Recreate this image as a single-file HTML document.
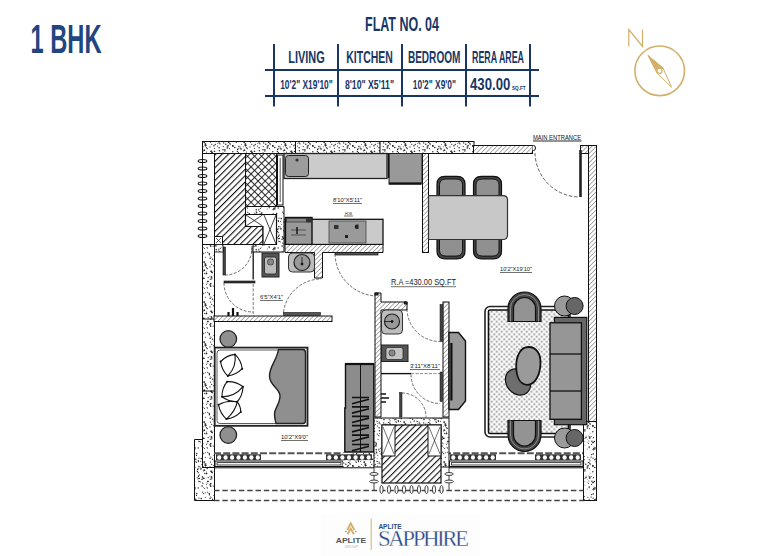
<!DOCTYPE html>
<html><head><meta charset="utf-8">
<style>
html,body{margin:0;padding:0;background:#fff;width:772px;height:556px;overflow:hidden}
svg{position:absolute;left:0;top:0;display:block}
text{font-family:"Liberation Sans",sans-serif}
</style></head><body>
<svg width="772" height="556" viewBox="0 0 772 556">
<defs>
<pattern id="hatch" patternUnits="userSpaceOnUse" width="4.5" height="4.5" patternTransform="rotate(45)">
<rect width="4.5" height="4.5" fill="#fff"/><line x1="0" y1="0" x2="0" y2="4.5" stroke="#111" stroke-width="2.2"/></pattern>
<pattern id="hatchf" patternUnits="userSpaceOnUse" width="3.2" height="3.2" patternTransform="rotate(45)">
<rect width="3.2" height="3.2" fill="#fff"/><line x1="0" y1="0" x2="0" y2="3.2" stroke="#333" stroke-width="0.8"/></pattern>
<pattern id="xhatch" patternUnits="userSpaceOnUse" width="5" height="5" patternTransform="rotate(45)">
<rect width="5" height="5" fill="#fff"/><line x1="0" y1="0" x2="0" y2="5" stroke="#111" stroke-width="1.7"/><line x1="0" y1="0" x2="5" y2="0" stroke="#111" stroke-width="1.7"/></pattern>
<pattern id="dots" patternUnits="userSpaceOnUse" width="40" height="40">
<rect width="40" height="40" fill="#fff"/>
<g fill="#222" stroke="none"><circle cx="24.9" cy="29.7" r="0.73"/><circle cx="37.7" cy="29.6" r="0.77"/><circle cx="1.2" cy="18.6" r="0.78"/><circle cx="26.0" cy="36.0" r="0.49"/><circle cx="18.8" cy="9.9" r="0.64"/><circle cx="23.0" cy="0.5" r="0.53"/><circle cx="11.2" cy="36.7" r="0.72"/><circle cx="6.4" cy="31.9" r="0.50"/><circle cx="24.7" cy="5.1" r="0.45"/><circle cx="34.9" cy="8.4" r="0.53"/><circle cx="39.3" cy="34.9" r="0.55"/><circle cx="38.5" cy="21.6" r="0.69"/><circle cx="8.2" cy="37.6" r="0.69"/><circle cx="38.7" cy="35.7" r="0.55"/><circle cx="14.4" cy="6.6" r="0.50"/><circle cx="2.6" cy="12.1" r="0.66"/><circle cx="0.1" cy="27.1" r="0.57"/><circle cx="12.4" cy="32.7" r="0.62"/><circle cx="12.6" cy="19.2" r="0.70"/><circle cx="2.3" cy="39.0" r="0.46"/><circle cx="30.0" cy="33.8" r="0.46"/><circle cx="31.5" cy="14.6" r="0.65"/><circle cx="0.4" cy="1.9" r="0.51"/><circle cx="38.2" cy="7.9" r="0.71"/><circle cx="37.2" cy="37.7" r="0.57"/><circle cx="14.2" cy="21.0" r="0.72"/><circle cx="4.3" cy="29.9" r="0.73"/><circle cx="34.4" cy="1.5" r="0.78"/><circle cx="3.6" cy="13.6" r="0.66"/><circle cx="36.7" cy="13.6" r="0.77"/><circle cx="21.8" cy="12.5" r="0.56"/><circle cx="7.1" cy="3.1" r="0.50"/><circle cx="27.6" cy="39.9" r="0.51"/><circle cx="1.9" cy="39.5" r="0.64"/><circle cx="16.2" cy="9.5" r="0.66"/><circle cx="33.1" cy="18.2" r="0.60"/><circle cx="2.2" cy="36.6" r="0.46"/><circle cx="19.7" cy="33.5" r="0.50"/><circle cx="29.3" cy="38.0" r="0.67"/><circle cx="31.5" cy="4.3" r="0.60"/><circle cx="6.0" cy="33.8" r="0.55"/><circle cx="18.1" cy="40.0" r="0.75"/><circle cx="39.0" cy="18.1" r="0.62"/><circle cx="29.2" cy="19.2" r="0.55"/><circle cx="16.2" cy="5.9" r="0.58"/><circle cx="39.5" cy="38.4" r="0.67"/><circle cx="20.0" cy="13.5" r="0.48"/><circle cx="10.9" cy="31.3" r="0.75"/><circle cx="14.5" cy="31.4" r="0.72"/><circle cx="27.8" cy="26.6" r="0.72"/><circle cx="14.5" cy="28.2" r="0.55"/><circle cx="19.4" cy="30.8" r="0.69"/><circle cx="11.8" cy="37.8" r="0.68"/><circle cx="23.2" cy="0.5" r="0.64"/><circle cx="10.0" cy="26.9" r="0.61"/><circle cx="32.7" cy="25.9" r="0.73"/><circle cx="13.9" cy="25.8" r="0.71"/><circle cx="33.1" cy="14.0" r="0.75"/><circle cx="34.8" cy="27.5" r="0.79"/><circle cx="38.3" cy="20.7" r="0.64"/><circle cx="6.6" cy="33.5" r="0.78"/><circle cx="19.1" cy="27.7" r="0.70"/><circle cx="29.2" cy="6.9" r="0.72"/><circle cx="23.2" cy="26.6" r="0.60"/><circle cx="24.9" cy="31.0" r="0.67"/><circle cx="28.8" cy="1.1" r="0.51"/><circle cx="17.6" cy="26.0" r="0.53"/><circle cx="27.4" cy="25.2" r="0.46"/><circle cx="18.9" cy="9.0" r="0.47"/><circle cx="5.3" cy="12.7" r="0.51"/><circle cx="7.7" cy="1.4" r="0.61"/><circle cx="15.2" cy="24.5" r="0.66"/><circle cx="9.5" cy="36.1" r="0.45"/><circle cx="16.2" cy="11.1" r="0.59"/><circle cx="4.6" cy="33.3" r="0.58"/><circle cx="1.4" cy="24.5" r="0.48"/><circle cx="21.8" cy="13.6" r="0.65"/><circle cx="38.3" cy="32.7" r="0.60"/><circle cx="32.5" cy="25.7" r="0.58"/><circle cx="5.7" cy="23.8" r="0.65"/><circle cx="38.3" cy="38.7" r="0.66"/><circle cx="14.0" cy="35.7" r="0.45"/><circle cx="4.3" cy="22.6" r="0.67"/><circle cx="5.6" cy="25.2" r="0.76"/><circle cx="15.0" cy="17.3" r="0.53"/><circle cx="11.7" cy="38.9" r="0.58"/><circle cx="38.4" cy="36.5" r="0.66"/><circle cx="10.4" cy="39.2" r="0.62"/><circle cx="16.6" cy="12.8" r="0.79"/><circle cx="19.7" cy="11.5" r="0.62"/><circle cx="4.9" cy="24.9" r="0.61"/><circle cx="11.7" cy="31.3" r="0.74"/><circle cx="0.5" cy="21.3" r="0.55"/><circle cx="37.4" cy="31.3" r="0.54"/><circle cx="10.7" cy="6.2" r="0.80"/><circle cx="11.7" cy="24.3" r="0.62"/><circle cx="25.8" cy="24.2" r="0.71"/><circle cx="4.7" cy="30.4" r="0.56"/><circle cx="21.3" cy="13.4" r="0.55"/><circle cx="21.2" cy="18.6" r="0.58"/><circle cx="29.8" cy="23.6" r="0.46"/><circle cx="10.1" cy="18.2" r="0.77"/><circle cx="35.5" cy="21.8" r="0.46"/><circle cx="31.1" cy="17.1" r="0.65"/><circle cx="28.3" cy="25.3" r="0.62"/><circle cx="36.5" cy="15.4" r="0.59"/><circle cx="34.1" cy="7.9" r="0.55"/><circle cx="33.2" cy="2.6" r="0.74"/><circle cx="27.8" cy="17.3" r="0.55"/><circle cx="31.2" cy="36.4" r="0.50"/><circle cx="19.1" cy="22.0" r="0.62"/><circle cx="13.2" cy="6.1" r="0.66"/><circle cx="32.5" cy="2.7" r="0.53"/><circle cx="32.8" cy="31.7" r="0.68"/><circle cx="1.0" cy="28.9" r="0.79"/><circle cx="39.9" cy="28.0" r="0.47"/><circle cx="33.7" cy="8.8" r="0.68"/><circle cx="38.1" cy="28.5" r="0.50"/><circle cx="11.7" cy="36.7" r="0.50"/><circle cx="24.4" cy="16.6" r="0.51"/><circle cx="24.9" cy="1.7" r="0.49"/><circle cx="15.2" cy="2.9" r="0.47"/><circle cx="23.0" cy="29.7" r="0.76"/><circle cx="5.4" cy="17.3" r="0.56"/><circle cx="24.0" cy="19.6" r="0.78"/><circle cx="15.0" cy="2.2" r="0.69"/><circle cx="6.0" cy="25.3" r="0.63"/><circle cx="36.4" cy="22.2" r="0.67"/><circle cx="10.5" cy="22.1" r="0.54"/><circle cx="30.0" cy="20.7" r="0.50"/><circle cx="9.4" cy="14.8" r="0.71"/><circle cx="7.2" cy="28.5" r="0.68"/><circle cx="3.4" cy="26.7" r="0.48"/><circle cx="5.0" cy="23.8" r="0.53"/><circle cx="35.1" cy="19.2" r="0.56"/><circle cx="31.9" cy="1.2" r="0.70"/><circle cx="2.1" cy="6.0" r="0.78"/><circle cx="27.2" cy="8.9" r="0.49"/><circle cx="38.9" cy="26.6" r="0.74"/><circle cx="5.6" cy="25.0" r="0.57"/><circle cx="9.4" cy="13.3" r="0.66"/><circle cx="13.9" cy="15.4" r="0.50"/><circle cx="33.2" cy="25.9" r="0.73"/><circle cx="17.3" cy="34.1" r="0.63"/><circle cx="23.7" cy="22.9" r="0.71"/><circle cx="15.8" cy="3.9" r="0.46"/><circle cx="8.1" cy="1.6" r="0.76"/><circle cx="19.2" cy="30.4" r="0.45"/><circle cx="18.8" cy="35.6" r="0.67"/><circle cx="17.1" cy="18.6" r="0.48"/></g>
<g stroke="#222" stroke-width=".9"><line x1="6.9" y1="7.0" x2="7.5" y2="8.6"/><line x1="34.5" y1="6.8" x2="35.5" y2="7.9"/><line x1="7.1" y1="11.9" x2="8.5" y2="13.1"/><line x1="2.2" y1="36.1" x2="3.2" y2="38.3"/><line x1="27.1" y1="26.6" x2="27.3" y2="28.9"/><line x1="5.5" y1="26.4" x2="6.7" y2="28.0"/><line x1="28.7" y1="7.2" x2="29.7" y2="7.9"/><line x1="9.8" y1="4.0" x2="10.5" y2="6.2"/><line x1="14.8" y1="12.8" x2="15.0" y2="14.4"/><line x1="28.8" y1="28.3" x2="30.1" y2="29.0"/><line x1="26.5" y1="36.7" x2="25.8" y2="38.3"/><line x1="38.1" y1="1.2" x2="40.2" y2="1.6"/><line x1="16.6" y1="2.7" x2="16.2" y2="5.1"/><line x1="20.7" y1="14.3" x2="21.9" y2="14.7"/><line x1="35.2" y1="19.7" x2="33.9" y2="19.9"/><line x1="10.3" y1="2.9" x2="10.7" y2="4.1"/><line x1="10.7" y1="16.5" x2="11.4" y2="17.5"/><line x1="2.4" y1="37.9" x2="4.0" y2="38.9"/><line x1="16.3" y1="21.2" x2="17.8" y2="21.6"/><line x1="5.1" y1="21.6" x2="3.2" y2="22.1"/><line x1="33.6" y1="9.1" x2="35.4" y2="9.2"/><line x1="19.5" y1="22.7" x2="20.2" y2="24.5"/><line x1="28.6" y1="35.7" x2="29.6" y2="37.1"/><line x1="32.4" y1="9.5" x2="33.9" y2="10.1"/><line x1="4.3" y1="30.4" x2="3.0" y2="31.2"/><line x1="5.9" y1="4.1" x2="6.9" y2="5.0"/><line x1="17.3" y1="22.9" x2="18.2" y2="23.8"/><line x1="27.6" y1="2.8" x2="28.9" y2="3.7"/><line x1="15.2" y1="4.7" x2="15.6" y2="6.3"/><line x1="29.6" y1="22.1" x2="27.7" y2="22.8"/><line x1="29.9" y1="22.8" x2="30.3" y2="25.0"/><line x1="25.9" y1="37.3" x2="24.6" y2="38.8"/><line x1="11.2" y1="31.9" x2="11.7" y2="33.1"/><line x1="3.5" y1="7.4" x2="4.9" y2="8.9"/><line x1="11.8" y1="3.4" x2="10.5" y2="4.7"/><line x1="2.0" y1="2.9" x2="3.5" y2="3.6"/><line x1="33.7" y1="37.1" x2="33.2" y2="38.5"/><line x1="17.3" y1="14.8" x2="17.9" y2="15.8"/><line x1="23.2" y1="32.4" x2="22.3" y2="33.4"/><line x1="21.2" y1="7.5" x2="20.1" y2="8.9"/><line x1="36.7" y1="31.2" x2="38.1" y2="31.8"/><line x1="35.8" y1="18.5" x2="36.1" y2="20.2"/><line x1="30.2" y1="36.6" x2="29.9" y2="38.9"/><line x1="23.6" y1="4.9" x2="22.2" y2="5.9"/><line x1="3.0" y1="38.2" x2="4.9" y2="38.4"/></g>
</pattern>
<pattern id="rug" patternUnits="userSpaceOnUse" width="5" height="5" x="0.5" y="0.5">
<rect width="5" height="5" fill="#fff"/><circle cx="1.25" cy="1.25" r="1" fill="#858585"/><circle cx="3.75" cy="3.75" r="1" fill="#858585"/></pattern>
</defs>

<!-- HEADER -->
<text x="30.5" y="52.7" font-size="41" font-weight="bold" fill="#1f4682" textLength="71" lengthAdjust="spacingAndGlyphs">1 BHK</text>
<text x="365" y="30.7" font-size="19.5" font-weight="bold" fill="#173666" textLength="74" lengthAdjust="spacingAndGlyphs">FLAT NO. 04</text>
<g stroke="#173666" stroke-width="2">
<line x1="274" y1="44" x2="274" y2="106.5"/>
<line x1="338" y1="44" x2="338" y2="106.5"/>
<line x1="402" y1="44" x2="402" y2="106.5"/>
<line x1="466" y1="44" x2="466" y2="106.5"/>
<line x1="530" y1="44" x2="530" y2="106.5"/>
<line x1="265" y1="70" x2="539" y2="70"/>
<line x1="265" y1="96" x2="539" y2="96"/>
</g>
<g fill="#173666" font-weight="bold">
<text x="288.3" y="62.8" font-size="17.3" textLength="36.5" lengthAdjust="spacingAndGlyphs">LIVING</text>
<text x="346.3" y="62.8" font-size="17.3" textLength="46.5" lengthAdjust="spacingAndGlyphs">KITCHEN</text>
<text x="407.9" y="62.8" font-size="17.3" textLength="52.5" lengthAdjust="spacingAndGlyphs">BEDROOM</text>
<text x="472" y="62.8" font-size="17.3" textLength="52" lengthAdjust="spacingAndGlyphs">RERA AREA</text>
<text x="280.2" y="88.7" font-size="13" textLength="52.5" lengthAdjust="spacingAndGlyphs">10'2" X19'10"</text>
<text x="344.9" y="88.7" font-size="13" textLength="49.2" lengthAdjust="spacingAndGlyphs">8'10" X5'11"</text>
<text x="412.8" y="88.7" font-size="13" textLength="43.2" lengthAdjust="spacingAndGlyphs">10'2" X9'0"</text>
<text x="470" y="90" font-size="16.3" textLength="40.3" lengthAdjust="spacingAndGlyphs">430.00</text>
<text x="512" y="89.6" font-size="5" textLength="13.7" lengthAdjust="spacingAndGlyphs">SQ.FT</text>
</g>
<!-- compass -->
<g stroke="#d2b06a" fill="none">
<circle cx="659.7" cy="70.8" r="24.8" stroke-width="1.6"/>
<path d="M628.8 46.5 V29.5 L642.5 46.5 V29.5" stroke-width="1.2"/>
<path d="M647.9 55.2 L663 68 L657 73 Z" fill="#d2b06a" stroke-width="1"/>
<path d="M657 73 L663 68 L671.6 87.3 Z" stroke-width="1"/>
<circle cx="659.5" cy="70.8" r="2.6" fill="#fff" stroke-width="1.2"/>
</g>

<!-- FLOOR PLAN -->
<g id="plan" stroke="#111" stroke-width="1">
<!-- top dotted wall -->
<rect x="202.5" y="141.5" width="271.5" height="12" fill="url(#dots)"/>
<line x1="295.5" y1="141" x2="295.5" y2="153"/>
<line x1="380" y1="141" x2="380" y2="153"/>
<!-- top hatched wall -->
<rect x="473.5" y="145.5" width="59" height="8" fill="url(#hatchf)"/>
<rect x="580.5" y="145.5" width="16" height="8" fill="url(#hatchf)"/>
<rect x="588.5" y="145.5" width="8" height="276.5" fill="url(#hatchf)"/>
<rect x="583.5" y="421.5" width="13" height="79" fill="url(#dots)"/>
<!-- left wall -->
<line x1="214.5" y1="153" x2="214.5" y2="244"/><line x1="202.5" y1="153" x2="202.5" y2="244"/>
<rect x="202.5" y="244.5" width="12" height="223" fill="url(#dots)"/>
<line x1="202" y1="319" x2="214" y2="319"/>
<line x1="202" y1="391" x2="214" y2="391"/>
<path d="M194.5 439.5 H202.5 V467.5 H214.5 V500.5 H194.5 Z" fill="url(#dots)"/>
<!-- left hatched block -->
<path d="M214.5 153.5 H245.5 V226.5 H263 V244.5 H214.5 Z" fill="url(#hatch)"/>
<rect x="245.5" y="153.5" width="31" height="53" fill="url(#xhatch)"/>
<path d="M245.5 206.5 H284 V252 H253 V244.5 H276.5 V214.5 H245.5 Z" fill="url(#dots)"/>
<path d="M245.5 214.5 H276.5 V244.5 H263 V226.5 H245.5 Z" fill="#fff" stroke-width="1.2"/>
<path d="M246 215 L262.5 226 M262.5 215 L246 226 M264 215 L276 244 M276 215 L264 244" stroke-width=".8"/>
<rect x="277.5" y="155" width="5.5" height="50" fill="#fff" stroke-width="1"/>
<line x1="280.2" y1="158" x2="280.2" y2="202" stroke-width=".7"/>
</g>

<g id="plan2" stroke="#111" stroke-width="1">
<!-- small X box at left -->
<rect x="214.5" y="236.5" width="8" height="8" fill="#fff" stroke-width="1"/>
<path d="M216 238 L221 243 M221 238 L216 243" stroke-width=".7"/>
<!-- kitchen upper counter -->
<rect x="284" y="153.5" width="103" height="25" fill="#cbcbcb" stroke="#222" stroke-width="1.3"/>
<rect x="285.5" y="155.5" width="23" height="21" rx="3" fill="#9c9c9c" stroke="#222" stroke-width="1"/>
<circle cx="297" cy="160" r="1.6" fill="#333" stroke="none"/>
<!-- fridge box -->
<rect x="389" y="153.5" width="33" height="30.5" fill="#999" stroke="#222" stroke-width="1"/>
<line x1="389" y1="183.5" x2="421" y2="183.5" stroke-width="2.2"/>
<line x1="388.5" y1="153.5" x2="388.5" y2="178" stroke-width="1.6"/>
<!-- thin wall kitchen/dining -->
<rect x="422.5" y="153.5" width="6" height="99" fill="url(#hatchf)"/>
<!-- lower counter -->
<rect x="285" y="219.3" width="98" height="25.2" fill="#cacaca" stroke="#111" stroke-width="1.3"/>
<rect x="285.5" y="217.5" width="26.5" height="27" fill="#999" stroke="#111" stroke-width="1.4"/>
<rect x="286.5" y="218.5" width="24.5" height="3.5" fill="#888" stroke="#222" stroke-width=".6"/>
<rect x="306" y="218.3" width="5" height="4" fill="#333" stroke="none"/>
<path d="M291 230 h15 M291 235 h15" stroke="#333" stroke-width=".7"/>
<path d="M297 227 v7" stroke="#111" stroke-width="1.4"/>
<rect x="329" y="221" width="37" height="22" fill="#9a9a9a" stroke="#444" stroke-width=".8"/>
<rect x="334" y="225" width="4.5" height="4" fill="#333" stroke="none"/>
<path d="M357 224.5 a2.3 2.3 0 1 0 0 4.6 h1.5 v-4.6 z" fill="#222" stroke="none"/>
<rect x="345" y="235" width="3" height="3" fill="#222" stroke="none"/>
<!-- hatched wall under counter -->
<path d="M285 244.5 H383 V252.5 H322.5 V278 H314.5 V252.5 H285 Z" fill="url(#hatchf)"/>
<!-- kitchen door -->
<rect x="335" y="252.5" width="43" height="2.5" fill="#555" stroke-width=".7"/>
<path d="M335 254 A43 43 0 0 0 377 296" fill="none" stroke="#333" stroke-width=".7" stroke-dasharray="3 1.5"/>
<!-- bath1 -->
<rect x="214" y="316" width="118" height="5.5" fill="url(#hatchf)"/>
<rect x="262" y="253" width="17" height="24" fill="#555" stroke="#222"/>
<rect x="264.5" y="257" width="12" height="17" rx="2" fill="#bbb" stroke="#222" stroke-width=".8"/>
<rect x="267.5" y="259" width="6" height="6" rx="2.5" fill="#888" stroke="#222" stroke-width=".6"/>
<rect x="288.5" y="253" width="26" height="19" rx="4" fill="#bdbdbd" stroke="#333"/>
<circle cx="302" cy="262.5" r="8" fill="#999" stroke="#222" stroke-width="1.2"/>
<path d="M302 257 V264" stroke-width=".8"/><circle cx="302" cy="264" r="1" fill="#111"/>
<!-- WC doors -->
<rect x="223" y="247" width="2.5" height="28" fill="#444" stroke-width=".6"/>
<path d="M225 275 A27 27 0 0 0 252 248" fill="none" stroke="#333" stroke-width=".7" stroke-dasharray="3 1.5"/>
<line x1="252" y1="246" x2="252" y2="253" stroke-width=".8"/>
<rect x="224" y="281" width="31" height="2" fill="#333" stroke-width=".6"/>
<path d="M224 283 A29 29 0 0 0 253 312" fill="none" stroke="#333" stroke-width=".7" stroke-dasharray="3 1.5"/>
<line x1="253.2" y1="252" x2="253.2" y2="279.5" stroke-width="1.3"/>
<line x1="253.2" y1="284" x2="253.2" y2="316" stroke="#555" stroke-width=".8" stroke-dasharray="3 1.5"/>
<rect x="214.5" y="244.5" width="8.5" height="7.5" fill="url(#dots)" stroke-width=".8"/>
<rect x="283.5" y="312.5" width="37" height="3" fill="#555" stroke-width=".6"/>
<path d="M283.5 312 A38 38 0 0 1 321 279" fill="none" stroke="#333" stroke-width=".7" stroke-dasharray="3 1.5"/>
<path d="M228.5 316 v-4 M233 316 v-8 M237.5 316 v-4" stroke-width="2.2"/>
</g>

<g id="plan3" stroke="#111" stroke-width="1">
<!-- ovals on left wall -->
<g fill="none" stroke="#111" stroke-width="1.1">
<ellipse cx="202.5" cy="161" rx="4.3" ry="1.45"/><ellipse cx="202.5" cy="168.5" rx="4.3" ry="1.45"/><ellipse cx="202.5" cy="176" rx="4.3" ry="1.45"/>
<ellipse cx="202.5" cy="183.5" rx="4.3" ry="1.45"/><ellipse cx="202.5" cy="191" rx="4.3" ry="1.45"/><ellipse cx="202.5" cy="198.5" rx="4.3" ry="1.45"/>
<ellipse cx="202.5" cy="206" rx="4.3" ry="1.45"/><ellipse cx="202.5" cy="213.5" rx="4.3" ry="1.45"/><ellipse cx="202.5" cy="221" rx="4.3" ry="1.45"/>
<ellipse cx="202.5" cy="228.5" rx="4.3" ry="1.45"/><ellipse cx="202.5" cy="236" rx="4.3" ry="1.45"/>
</g>
<!-- main door -->
<path d="M532.5 145.5 h1 a2 2.5 0 0 1 0 5 h-1" fill="#fff" stroke-width="1"/>
<rect x="579.2" y="150" width="2.6" height="47" fill="#222" stroke="none"/>
<path d="M535 153 A45 45 0 0 0 579 197" fill="none" stroke="#333" stroke-width=".8" stroke-dasharray="3.5 1.8"/>
<text x="533" y="140" font-size="6.6" fill="#111" stroke="none" textLength="48" lengthAdjust="spacingAndGlyphs">MAIN ENTRANCE</text>
<line x1="533" y1="141" x2="581.5" y2="141" stroke-width=".9"/>
<!-- dining -->
<g stroke="#111"><path d="M437 197 V184.3 Q437 176.3 445 176.3 H457 Q465 176.3 465 184.3 V197 Z" fill="#444" stroke-width="1.2"/><path d="M439.5 197 V184.8 Q439.5 179.0 446 179.0 H456 Q462.5 179.0 462.5 184.8 V197 Z" fill="#909090" stroke-width="1"/><path d="M473.5 197 V184.3 Q473.5 176.3 481.5 176.3 H493.5 Q501.5 176.3 501.5 184.3 V197 Z" fill="#444" stroke-width="1.2"/><path d="M476.0 197 V184.8 Q476.0 179.0 482.5 179.0 H492.5 Q499.0 179.0 499.0 184.8 V197 Z" fill="#909090" stroke-width="1"/><path d="M437 238 V250.8 Q437 258.8 445 258.8 H457 Q465 258.8 465 250.8 V238 Z" fill="#444" stroke-width="1.2"/><path d="M439.5 238 V250.3 Q439.5 256.1 446 256.1 H456 Q462.5 256.1 462.5 250.3 V238 Z" fill="#909090" stroke-width="1"/><path d="M473.5 238 V250.8 Q473.5 258.8 481.5 258.8 H493.5 Q501.5 258.8 501.5 250.8 V238 Z" fill="#444" stroke-width="1.2"/><path d="M476.0 238 V250.3 Q476.0 256.1 482.5 256.1 H492.5 Q499.0 256.1 499.0 250.3 V238 Z" fill="#909090" stroke-width="1"/></g>
<path d="M428.5 195.7 H503 Q507.5 195.7 507.5 200 V235 Q507.5 239.5 503 239.5 H428.5 Z" fill="#c8c8c8" stroke="#333" stroke-width="1.2"/>
<!-- labels -->
<g fill="#222" stroke="none">
<text x="333" y="202" font-size="6" textLength="29" lengthAdjust="spacingAndGlyphs">8'10"X5'11"</text>
<text x="345" y="215" font-size="4" textLength="7" lengthAdjust="spacingAndGlyphs">HOB</text>
<text x="260" y="299" font-size="6" textLength="23" lengthAdjust="spacingAndGlyphs">6'5"X4'1"</text>
<text x="391" y="285" font-size="8.6" textLength="65" lengthAdjust="spacingAndGlyphs">R.A =430.00 SQ.FT</text>
<text x="500" y="271" font-size="6" textLength="32" lengthAdjust="spacingAndGlyphs">10'2"X19'10"</text>
<text x="410" y="368" font-size="6" textLength="30" lengthAdjust="spacingAndGlyphs">3'11"X8'11"</text>
<text x="281" y="439" font-size="6" textLength="27" lengthAdjust="spacingAndGlyphs">10'2"X9'0"</text>
</g>
<g stroke-width=".6">
<line x1="333" y1="203.5" x2="362" y2="203.5"/>
<line x1="344" y1="216" x2="353" y2="216"/>
<line x1="260" y1="300.5" x2="283" y2="300.5"/>
<line x1="391" y1="286.7" x2="456" y2="286.7"/>
<line x1="500" y1="272.5" x2="532" y2="272.5"/>
<line x1="410" y1="369.5" x2="440" y2="369.5"/>
<line x1="281" y1="440.5" x2="308" y2="440.5"/>
</g>
<!-- hall / bath2 walls -->
<path d="M375 293 H381 V302 H407 V310 H381 V417 H375 Z" fill="url(#hatchf)"/>
<rect x="375" y="293" width="3" height="2" fill="#333"/>
<rect x="404.5" y="302" width="2.5" height="2" fill="#333"/>
<rect x="443" y="302" width="6" height="115" fill="url(#hatchf)"/>
<!-- bath2 fixtures -->
<rect x="381.5" y="310" width="21" height="24" rx="4" fill="#bdbdbd" stroke="#333"/>
<circle cx="392" cy="321.5" r="7.5" fill="#999" stroke="#222" stroke-width="1.2"/>
<path d="M385 321.5 H392" stroke-width=".8"/><circle cx="392" cy="321.5" r="1" fill="#111"/>
<rect x="381.5" y="345" width="26.5" height="16.5" fill="#555" stroke="#222"/>
<rect x="386" y="347.5" width="17" height="12" rx="2" fill="#c4c4c4" stroke="#222" stroke-width=".7"/>
<rect x="389" y="350" width="6" height="6" rx="2.5" fill="#888" stroke="#222" stroke-width=".6"/>
<line x1="381" y1="373.6" x2="411" y2="373.6" stroke-width="1.4"/>
<line x1="411" y1="373.6" x2="443" y2="373.6" stroke="#555" stroke-width=".7" stroke-dasharray="3 1.5"/>
<rect x="440" y="304.5" width="3" height="37" fill="#444" stroke-width=".5"/>
<path d="M407 309 A33 33 0 0 0 440 341.5" fill="none" stroke="#333" stroke-width=".7" stroke-dasharray="3 1.5"/>
<rect x="440" y="372" width="2.5" height="29.5" fill="#444" stroke-width=".5"/>
<path d="M411 374.5 A29 29 0 0 0 440 403.5" fill="none" stroke="#333" stroke-width=".7" stroke-dasharray="3 1.5"/>
<rect x="399.5" y="392.5" width="2.5" height="24.5" fill="#444" stroke-width=".5"/>
<path d="M402 393 A24 24 0 0 1 426 417" fill="none" stroke="#333" stroke-width=".7" stroke-dasharray="3 1.5"/>
<path d="M381 394 h5 M381 398 h8 M381 402 h5" stroke-width="1.6"/>
<!-- TV unit -->
<path d="M449 332.5 H458.5 L465.5 341 V401 L458.5 409.5 H449 Z" fill="#999" stroke="#111" stroke-width="1.4"/>
<rect x="450.3" y="343" width="2.2" height="57.5" fill="#111" stroke="none"/>
<!-- wardrobe -->
<path d="M345.5 364 H373.8 V452 H344.8 V408 H345.5 Z" fill="#8c8c8c" stroke="#111" stroke-width="1.4"/>
<line x1="345" y1="364" x2="374" y2="364" stroke-width="2.2"/>
<line x1="360.5" y1="364" x2="360.5" y2="452" stroke-width="1"/>
<path d="M352 397.5 H369 M352 403.7 L369 399.3 M352 406.9 H369 M352 413.1 L369 408.7 M352 416.3 H369 M352 422.5 L369 418.1 M352 425.7 H369 M352 431.9 L369 427.5 M352 435.1 H369 M352 441.3 L369 436.9 M352 444.5 H369 M352 450.7 L369 446.3" fill="none" stroke="#111" stroke-width="1.7"/>
</g>

<g id="plan4" stroke="#111" stroke-width="1">
<!-- rug -->
<rect x="485" y="306.5" width="85" height="130.5" rx="5" fill="#fff" stroke="#222" stroke-width="1.6"/>
<rect x="488.5" y="310" width="80" height="123.5" rx="1.5" fill="url(#rug)" stroke="#111" stroke-width="1.6"/>
<!-- armchairs -->
<g stroke="#111">
<path d="M508 321.5 V308.5 A16.5 16.5 0 0 1 541 308.5 V321.5 Z" fill="#444" stroke-width="1.2"/>
<path d="M510.5 321.5 V308.5 A14 14 0 0 1 538.5 308.5 V321.5" fill="none" stroke="#bbb" stroke-width=".6"/>
<path d="M513.5 321.5 V308.5 A11 11 0 0 1 535.5 308.5 V321.5 Z" fill="#939393" stroke-width="1.2"/>
<path d="M508 420.5 V435 A16.5 16.5 0 0 0 541 435 V420.5 Z" fill="#444" stroke-width="1.2"/>
<path d="M510.5 420.5 V435 A14 14 0 0 0 538.5 435 V420.5" fill="none" stroke="#bbb" stroke-width=".6"/>
<path d="M513.5 420.5 V435 A11 11 0 0 0 535.5 435 V420.5 Z" fill="#939393" stroke-width="1.2"/>
</g>
<!-- side circles -->
<circle cx="564.5" cy="306" r="10" fill="#9a9a9a" stroke="#111" stroke-width="1"/>
<circle cx="574.6" cy="306" r="8.5" fill="#666" stroke="#111" stroke-width="1"/>
<circle cx="564.5" cy="438" r="10" fill="#9a9a9a" stroke="#111" stroke-width="1"/>
<circle cx="574.6" cy="438" r="8.5" fill="#666" stroke="#111" stroke-width="1"/>
<!-- sofa -->
<rect x="554.4" y="317.4" width="32.4" height="107.3" fill="#666" stroke="#111" stroke-width="1.2"/>
<rect x="550" y="322.8" width="31.4" height="96.5" fill="#969696" stroke="#111" stroke-width="1.3"/>
<line x1="550" y1="354" x2="581.4" y2="354" stroke-width="1.3"/>
<line x1="550" y1="391" x2="581.4" y2="391" stroke-width="1.3"/>
<!-- ottomans -->
<ellipse cx="518" cy="382" rx="11.5" ry="14" transform="rotate(-40 518 382)" fill="#6e6e6e" stroke="#111" stroke-width="1.2"/>
<path d="M528.5 347 C536.5 347 541 354 540.5 364 C540 375 535 384.8 527.5 384.8 C520 384.8 516.5 377 516.2 367 C516 356 520.5 347 528.5 347 Z" fill="#9a9a9a" stroke="#111" stroke-width="1.8"/>
<!-- bed -->
<circle cx="228.3" cy="339" r="8.3" fill="#8f8f8f" stroke="#222" stroke-width="1.3"/>
<circle cx="228.3" cy="435" r="8.3" fill="#8f8f8f" stroke="#222" stroke-width="1.3"/>
<rect x="214.7" y="347.6" width="92.8" height="78.2" fill="#fff" stroke="#222" stroke-width="1.8"/>
<rect x="217" y="350" width="88.5" height="73.5" rx="3" fill="#fff" stroke="#333" stroke-width=".8"/>
<path d="M278.5 349.5 C277 360 269.5 366 269.5 376 C269.5 386 280 388 280 396 C280 404 274.5 408 274.5 414 C274.5 418 275.5 421 276 423.5 H303 Q305.5 423.5 305.5 420.5 V353 Q305.5 349.5 303 349.5 Z" fill="#8f8f8f" stroke="#222" stroke-width="1.4"/>
<g fill="none" stroke="#111" stroke-width="1.1"><path d="M220.6 361.5 Q226.5 355.4 235.0 354.4 Q241.2 360.3 242.2 368.7 Q236.3 374.9 227.8 376.0 Q221.6 370.0 220.6 361.5"/><path d="M235 354.4 Q236.8 366.9 227.8 376"/><circle cx="220.6" cy="361.5" r="1" fill="#111" stroke="none"/><circle cx="235" cy="354.4" r="1" fill="#111" stroke="none"/><circle cx="242.2" cy="368.7" r="1" fill="#111" stroke="none"/><circle cx="227.8" cy="376" r="1" fill="#111" stroke="none"/><path d="M227.1 381.7 Q236.0 381.3 243.0 386.7 Q242.8 395.3 237.2 401.8 Q228.7 402.0 222.0 396.8 Q221.8 388.3 227.1 381.7"/><path d="M243 386.7 Q234.8 396.8 222 396.8"/><circle cx="227.1" cy="381.7" r="1" fill="#111" stroke="none"/><circle cx="243" cy="386.7" r="1" fill="#111" stroke="none"/><circle cx="237.2" cy="401.8" r="1" fill="#111" stroke="none"/><circle cx="222" cy="396.8" r="1" fill="#111" stroke="none"/><path d="M218.5 404.7 Q227.3 399.9 237.2 401.8 Q240.8 406.2 240.8 411.9 Q234.9 418.1 226.4 419.1 Q219.9 413.3 218.5 404.7"/><path d="M237.2 401.8 Q235.8 410.6 226.4 419.1"/><circle cx="218.5" cy="404.7" r="1" fill="#111" stroke="none"/><circle cx="237.2" cy="401.8" r="1" fill="#111" stroke="none"/><circle cx="240.8" cy="411.9" r="1" fill="#111" stroke="none"/><circle cx="226.4" cy="419.1" r="1" fill="#111" stroke="none"/></g>
<!-- balcony -->
<line x1="214" y1="453.3" x2="583" y2="453.3" stroke="#555" stroke-width="2" stroke-dasharray="7 2.2"/>
<rect x="215" y="461" width="128" height="5.5" fill="#fff" stroke="#111" stroke-width="1"/>
<rect x="217" y="462.6" width="124" height="2.4" fill="#f4f4f4" stroke="#222" stroke-width=".8"/>
<rect x="449.5" y="461" width="133.5" height="5.5" fill="#fff" stroke="#111" stroke-width="1"/>
<rect x="451.5" y="462.6" width="129.5" height="2.4" fill="#f4f4f4" stroke="#222" stroke-width=".8"/>
<rect x="343" y="453" width="31" height="14" fill="url(#dots)" stroke="none"/>
<line x1="214" y1="467.8" x2="374" y2="467.8" stroke-width="1"/>
<line x1="449" y1="467.8" x2="583.5" y2="467.8" stroke-width="1"/>
<line x1="214" y1="490.5" x2="583.5" y2="490.5" stroke="#444" stroke-width="1.5" stroke-dasharray="5.5 2.8"/>
<line x1="214" y1="500.5" x2="583.5" y2="500.5" stroke="#444" stroke-width="1.5" stroke-dasharray="5.5 2.8"/>
<g stroke="none"><rect x="216" y="454.3" width="45" height="5.8" fill="#333"/><rect x="326" y="454.3" width="46" height="5.8" fill="#333"/><rect x="450" y="454.3" width="46" height="5.8" fill="#333"/><rect x="535" y="454.3" width="46" height="5.8" fill="#333"/></g><g fill="#fff" stroke="none"><ellipse cx="219.2" cy="457.5" rx="2.1" ry="2.2"/><ellipse cx="225.6" cy="457.5" rx="2.1" ry="2.2"/><ellipse cx="232.1" cy="457.5" rx="2.1" ry="2.2"/><ellipse cx="238.5" cy="457.5" rx="2.1" ry="2.2"/><ellipse cx="244.9" cy="457.5" rx="2.1" ry="2.2"/><ellipse cx="251.4" cy="457.5" rx="2.1" ry="2.2"/><ellipse cx="257.8" cy="457.5" rx="2.1" ry="2.2"/><ellipse cx="329.3" cy="457.5" rx="2.1" ry="2.2"/><ellipse cx="335.9" cy="457.5" rx="2.1" ry="2.2"/><ellipse cx="342.4" cy="457.5" rx="2.1" ry="2.2"/><ellipse cx="349.0" cy="457.5" rx="2.1" ry="2.2"/><ellipse cx="355.6" cy="457.5" rx="2.1" ry="2.2"/><ellipse cx="362.1" cy="457.5" rx="2.1" ry="2.2"/><ellipse cx="368.7" cy="457.5" rx="2.1" ry="2.2"/><ellipse cx="453.3" cy="457.5" rx="2.1" ry="2.2"/><ellipse cx="459.9" cy="457.5" rx="2.1" ry="2.2"/><ellipse cx="466.4" cy="457.5" rx="2.1" ry="2.2"/><ellipse cx="473.0" cy="457.5" rx="2.1" ry="2.2"/><ellipse cx="479.6" cy="457.5" rx="2.1" ry="2.2"/><ellipse cx="486.1" cy="457.5" rx="2.1" ry="2.2"/><ellipse cx="492.7" cy="457.5" rx="2.1" ry="2.2"/><ellipse cx="538.3" cy="457.5" rx="2.1" ry="2.2"/><ellipse cx="544.9" cy="457.5" rx="2.1" ry="2.2"/><ellipse cx="551.4" cy="457.5" rx="2.1" ry="2.2"/><ellipse cx="558.0" cy="457.5" rx="2.1" ry="2.2"/><ellipse cx="564.6" cy="457.5" rx="2.1" ry="2.2"/><ellipse cx="571.1" cy="457.5" rx="2.1" ry="2.2"/><ellipse cx="577.7" cy="457.5" rx="2.1" ry="2.2"/></g>
<line x1="202" y1="467.5" x2="214" y2="467.5"/>
<!-- shaft -->
<rect x="374" y="418" width="75" height="49" fill="url(#dots)"/>
<line x1="374" y1="467" x2="374" y2="490" stroke-width=".8"/>
<line x1="449" y1="467" x2="449" y2="490" stroke-width=".8"/>
<rect x="382" y="425" width="59" height="58" fill="url(#hatch)" stroke-width="1.2"/>
<rect x="382" y="425" width="13" height="31" fill="#fff" stroke-width="1"/>
<rect x="428" y="425" width="13" height="31" fill="#fff" stroke-width="1"/>
<path d="M383 427 L394 454 M394 427 L383 454 M429 427 L440 454 M440 427 L429 454" stroke-width=".6"/>
<g fill="#fff" stroke="#222" stroke-width=".9">
<ellipse cx="381.5" cy="489.5" rx="1.6" ry="4"/><ellipse cx="389" cy="489.5" rx="1.6" ry="4"/><ellipse cx="396.5" cy="489.5" rx="1.6" ry="4"/>
<ellipse cx="404" cy="489.5" rx="1.6" ry="4"/><ellipse cx="411.5" cy="489.5" rx="1.6" ry="4"/><ellipse cx="419" cy="489.5" rx="1.6" ry="4"/>
<ellipse cx="426.5" cy="489.5" rx="1.6" ry="4"/><ellipse cx="434" cy="489.5" rx="1.6" ry="4"/><ellipse cx="441.5" cy="489.5" rx="1.6" ry="4"/>
<ellipse cx="374" cy="474" rx="4.3" ry="1.45"/><ellipse cx="374" cy="481.5" rx="4.3" ry="1.45"/>
<ellipse cx="449" cy="474" rx="4.3" ry="1.45"/><ellipse cx="449" cy="481.5" rx="4.3" ry="1.45"/>
</g>
</g>
<!-- LOGO -->
<g>
<rect x="321" y="514" width="160" height="42" fill="#fdfdfd"/>
<g stroke="#d2b06a" fill="none" stroke-width="1.9">
<path d="M347.3 530 L350.7 523.3 L354.3 530"/>
<path d="M347.6 534.3 L350.7 528.6 L353.9 534.3"/>
</g>
<rect x="345" y="530.7" width="1.7" height="1.7" fill="#d2b06a" transform="rotate(45 345.8 531.5)"/>
<rect x="355" y="530.7" width="1.7" height="1.7" fill="#d2b06a" transform="rotate(45 355.8 531.5)"/>
<text x="335.7" y="543.4" font-size="7" font-weight="bold" fill="#555" textLength="30.5" lengthAdjust="spacingAndGlyphs">APLITE</text>
<text x="344.4" y="548" font-size="3.6" fill="#b0b0b0" textLength="13.6" lengthAdjust="spacing">GROUP</text>
<line x1="371.2" y1="518.7" x2="371.2" y2="549.8" stroke="#d2b06a" stroke-width="1"/>
<text x="378.4" y="528.8" font-size="7" font-weight="bold" fill="#2a4a85" textLength="23.3" lengthAdjust="spacingAndGlyphs">APLITE</text>
<text x="378" y="546" font-size="23" fill="#2a4a85" stroke="#fff" stroke-width=".3" textLength="91"  lengthAdjust="spacing" style="font-family:'Liberation Serif',serif">SAPPHIRE</text>
</g>
</svg>
</body></html>
